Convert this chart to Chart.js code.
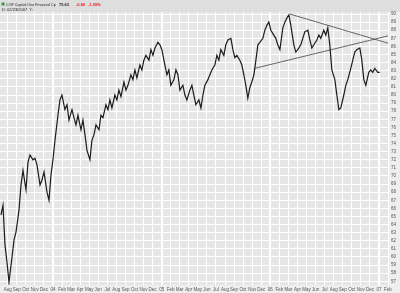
<!DOCTYPE html>
<html>
<head>
<meta charset="utf-8">
<script src="https://cdn.jsdelivr.net/npm/chart.js@4.4.1/dist/chart.umd.min.js"></script>
<style>
  html, body { margin: 0; padding: 0; background: #eeeeee; }
  #wrap { width: 400px; height: 293px; }
</style>
</head>
<body>
<div id="wrap"><canvas id="priceChart" width="400" height="293"></canvas></div>
<script>
// time axis: months counted from Jan 2003 (Jan 2004 = 12)
const months = [
  6.26, 6.48, 6.70, 6.92, 7.14, 7.47, 7.70, 7.92, 8.25, 8.47, 8.69, 9.02, 9.24, 9.46, 9.79, 10.01,
  10.23, 10.57, 10.79, 11.01, 11.34, 11.56, 11.78, 12.00, 12.22, 12.55, 12.77, 12.99, 13.32, 13.55,
  13.77, 14.10, 14.32, 14.54, 14.76, 15.09, 15.31, 15.53, 15.75, 16.08, 16.30, 16.53, 16.75, 17.08,
  17.30, 17.52, 17.85, 18.07, 18.29, 18.51, 18.84, 19.06, 19.28, 19.51, 19.84, 20.06, 20.28, 20.61,
  20.83, 21.05, 21.27, 21.60, 21.82, 22.04, 22.26, 22.60, 22.82, 23.04, 23.26, 23.59, 23.81, 24.03,
  24.25, 24.58, 24.80, 25.02, 25.36, 25.58, 25.80, 26.02, 26.35, 26.57, 26.79, 27.12, 27.34, 27.56,
  27.78, 28.11, 28.34, 28.56, 28.78, 29.11, 29.33, 29.55, 29.88, 30.10, 30.32, 30.54, 30.87, 31.09,
  31.32, 31.65, 31.87, 32.09, 32.31, 32.64, 32.86, 33.08, 33.30, 33.52, 33.74, 33.96, 34.19, 34.41,
  34.63, 34.85, 35.18, 35.40, 35.62, 35.84, 36.06, 36.39, 36.61, 36.83, 37.06, 37.39, 37.61, 37.83,
  38.05, 38.27, 38.60, 38.82, 39.04, 39.37, 39.59, 39.81, 40.15, 40.37, 40.59, 40.81, 41.14, 41.36,
  41.58, 41.91, 42.13, 42.35, 42.57, 42.80, 43.13, 43.35, 43.57, 43.79, 44.12, 44.34, 44.56, 44.89,
  45.11, 45.33, 45.55, 45.89, 46.11, 46.33, 46.55, 46.88, 47.10, 47.32, 47.54, 47.87, 48.09
];

const closes = [
  65.2, 66.4, 61.5, 59.4, 56.9, 59.9, 62.1, 63.1, 65.8, 68.9, 70.7, 68.3, 71.7, 72.6, 72.0, 72.2,
  71.4, 68.9, 69.5, 70.5, 68.0, 67.0, 70.1, 72.0, 74.4, 77.5, 79.4, 80.0, 78.2, 78.8,
  76.9, 78.2, 77.2, 76.3, 77.5, 75.7, 76.9, 75.1, 73.2, 72.0, 74.4, 75.1, 76.3, 75.7,
  77.5, 77.2, 78.8, 78.2, 79.4, 78.4, 80.0, 79.4, 80.6, 79.8, 81.6, 80.6, 81.2, 82.5,
  81.9, 83.1, 82.1, 83.7, 83.1, 84.3, 84.9, 84.3, 85.6, 84.9, 85.8, 86.5, 86.2, 85.6,
  84.3, 82.5, 83.1, 81.2, 81.9, 83.1, 82.5, 80.6, 81.2, 80.0, 79.4, 80.6, 81.2, 80.0,
  78.8, 79.4, 78.4, 80.0, 81.2, 81.9, 82.5, 83.1, 83.7, 84.9, 84.3, 85.6, 84.9, 86.2,
  86.8, 87.0, 85.6, 84.6, 84.9, 84.3, 83.7, 82.5, 81.2, 79.6, 80.9, 81.6, 82.5, 84.3,
  86.2, 86.5, 87.0, 88.0, 88.6, 89.0, 88.0, 87.4, 87.0, 86.2, 85.6, 88.3, 89.0, 89.5,
  89.9, 88.6, 86.2, 85.3, 85.6, 86.2, 87.0, 87.8, 88.0, 86.8, 85.8, 86.2, 86.8, 87.4,
  87.0, 88.0, 87.4, 88.3, 86.2, 83.1, 81.9, 80.0, 78.2, 78.4, 80.0, 81.2, 81.9, 83.3,
  84.3, 85.3, 85.6, 85.8, 84.3, 81.9, 81.2, 82.8, 83.1, 82.8, 83.3, 82.8, 82.8
];

// hand drawn trend lines (triangle)
const upperLineMonths = [38.16, 49.0];
const upperLinePrices = [90.0, 86.4];
const lowerLineMonths = [34.30, 49.0];
const lowerLinePrices = [83.3, 87.3];

// axis labels
const monthTicks = [7, 8, 9, 10, 11, 12, 13, 14, 15, 16, 17, 18, 19, 20, 21, 22, 23, 24, 25, 26, 27,
  28, 29, 30, 31, 32, 33, 34, 35, 36, 37, 38, 39, 40, 41, 42, 43, 44, 45, 46, 47, 48, 49];
const monthLabels = ['Aug', 'Sep', 'Oct', 'Nov', 'Dec', '04', 'Feb', 'Mar', 'Apr', 'May', 'Jun', 'Jul',
  'Aug', 'Sep', 'Oct', 'Nov', 'Dec', '05', 'Feb', 'Mar', 'Apr', 'May', 'Jun', 'Jul', 'Aug', 'Sep',
  'Oct', 'Nov', 'Dec', '06', 'Feb', 'Mar', 'Apr', 'May', 'Jun', 'Jul', 'Aug', 'Sep', 'Oct', 'Nov',
  'Dec', '07', 'Feb'];
const priceTicks = [57, 58, 59, 60, 61, 62, 63, 64, 65, 66, 67, 68, 69, 70, 71, 72, 73, 74, 75, 76,
  77, 78, 79, 80, 81, 82, 83, 84, 85, 86, 87, 88, 89, 90];

const toPoints = (xs, ys) => xs.map((x, i) => ({ x: x, y: ys[i] }));

// backgrounds + header text
const chartFrame = {
    id: 'chartFrame',
    beforeDraw: (chart) => {
        const ctx = chart.ctx;
        const a = chart.chartArea;
        ctx.save();
        ctx.fillStyle = '#eeeeee';
        ctx.fillRect(0, 0, chart.width, chart.height);
        ctx.fillStyle = '#dedede';
        ctx.fillRect(0, 0, chart.width, a.top);
        ctx.fillStyle = '#e6e6e6';
        ctx.fillRect(a.left, a.top, a.right - a.left, a.bottom - a.top);
        ctx.restore();
    },
    afterDraw: (chart) => {
        const ctx = chart.ctx;
        ctx.save();
        ctx.textBaseline = 'middle';
        ctx.fillStyle = '#3a9a3a';
        ctx.fillRect(1.5, 2.5, 3, 3);
        ctx.font = '3.7px "Liberation Sans", Arial, sans-serif';
        ctx.fillStyle = '#222';
        ctx.fillText('COF Capital One Financial Cp', 6, 4.5);
        ctx.font = 'bold 4px "Liberation Sans", Arial, sans-serif';
        ctx.fillText('75.63', 59, 4.5);
        ctx.fillStyle = '#e02020';
        ctx.fillText('-0.80', 76, 4.5);
        ctx.fillText('-1.05%', 88, 4.5);
        ctx.font = '4px "Liberation Sans", Arial, sans-serif';
        ctx.fillStyle = '#222';
        ctx.fillText('D: 02/23/2007  Y:', 2, 10);
        ctx.restore();
    }
};

const ctx = document.getElementById('priceChart').getContext('2d');
window.priceChart = new Chart(ctx, {
    type: 'line',
    data: {
        datasets: [
            {
                label: 'COF',
                data: toPoints(months, closes),
                borderColor: '#1c1c1c',
                borderWidth: 1.2,
                pointRadius: 0,
                tension: 0
            },
            {
                label: 'upper',
                data: toPoints(upperLineMonths, upperLinePrices),
                borderColor: '#444',
                borderWidth: 0.8,
                pointRadius: 0
            },
            {
                label: 'lower',
                data: toPoints(lowerLineMonths, lowerLinePrices),
                borderColor: '#444',
                borderWidth: 0.8,
                pointRadius: 0
            }
        ]
    },
    options: {
        responsive: false,
        animation: false,
        layout: { padding: { top: 12, left: 0, right: 0, bottom: 0 } },
        plugins: {
            legend: { display: false },
            tooltip: { enabled: false }
        },
        scales: {
            x: {
                type: 'linear',
                min: 6.15,
                max: 49,
                border: { display: false },
                afterBuildTicks: (axis) => {
                    axis.ticks = monthTicks.map(v => ({ value: v }));
                },
                afterFit: (axis) => { axis.height = 8; },
                grid: {
                    color: '#ffffff',
                    lineWidth: (c) => (c.tick && /^\d/.test(monthLabels[monthTicks.indexOf(c.tick.value)] || '') ? 2 : 1),
                    drawTicks: false
                },
                ticks: {
                    autoSkip: false,
                    maxRotation: 0,
                    padding: 2,
                    color: '#555',
                    font: { size: 4.5, family: '"Liberation Sans", Arial, sans-serif' },
                    callback: (v) => monthLabels[monthTicks.indexOf(v)] || ''
                }
            },
            y: {
                type: 'linear',
                position: 'right',
                min: 56.54,
                max: 90.25,
                border: { display: false },
                afterBuildTicks: (axis) => {
                    axis.ticks = priceTicks.map(v => ({ value: v }));
                },
                afterFit: (axis) => { axis.width = 12; },
                grid: {
                    color: '#ffffff',
                    lineWidth: 1,
                    drawTicks: false
                },
                ticks: {
                    autoSkip: false,
                    padding: 3,
                    color: '#555',
                    font: { size: 4.5, family: '"Liberation Sans", Arial, sans-serif' }
                }
            }
        }
    },
    plugins: [chartFrame]
});
</script>
</body>
</html>
